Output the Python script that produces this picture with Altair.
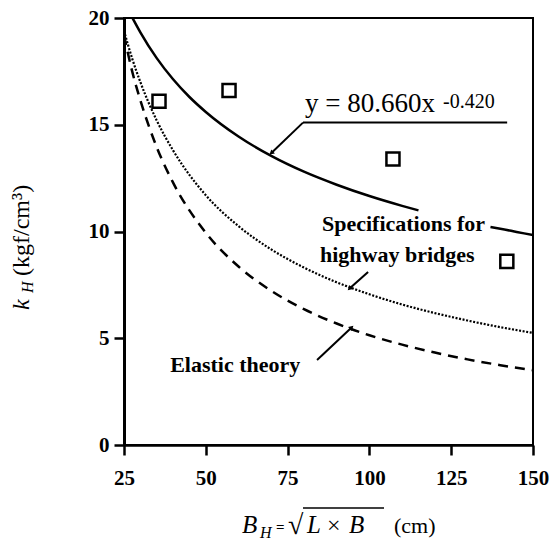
import altair as alt
import pandas as pd

# ---- data ----
# fitted curve y = 80.660 x^-0.420 (drawn with a gap behind the label text)
solid_x = [27.6, 30, 35, 40, 45, 50, 60, 70, 80, 90, 100, 110, 115, 137, 140, 145, 150]
solid_y = [20.0, 19.33, 18.12, 17.13, 16.30, 15.60, 14.45, 13.54, 12.80, 12.19, 11.66, 11.20, 10.99,
           10.21, 10.13, 9.98, 9.83]
solid_seg = ["a"] * 13 + ["b"] * 4

# Specifications for highway bridges (dotted)
spec_x = [25, 27.5, 30, 35, 40, 50, 60, 70, 80, 90, 100, 110, 120, 130, 140, 150]
spec_y = [19.4, 18.1, 17.0, 15.2, 13.8, 11.7, 10.25, 9.16, 8.31, 7.62, 7.06, 6.58, 6.18, 5.83, 5.52, 5.25]

# Elastic theory (dashed)
elastic_x = [25, 27.5, 30, 35, 40, 50, 60, 70, 80, 90, 100, 110, 120, 130, 140, 150]
elastic_y = [19.2, 17.5, 16.15, 13.95, 12.29, 9.94, 8.36, 7.22, 6.36, 5.69, 5.14, 4.70, 4.33, 4.01, 3.74, 3.5]

# measured points
obs_x = [35.7, 57.1, 107.2, 142.0]
obs_y = [16.1, 16.6, 13.4, 8.6]

x_ticks = [25, 50, 75, 100, 125, 150]
y_ticks = [0, 5, 10, 15, 20]

# leader lines of the annotations (data units)
lead_x = [79.7, 79.7, 99.6, 84.0]
lead_y = [15.1, 15.1, 8.1, 3.98]
lead_x2 = [142.1, 70.2, 94.1, 94.4]
lead_y2 = [15.1, 13.7, 7.35, 5.48]
tip_x = [70.2, 94.1, 94.4]
tip_y = [13.7, 7.35, 5.48]
tip_ang = [229, 228, 47]

SERIF = "Liberation Serif"

solid_df = pd.DataFrame({"x": solid_x, "y": solid_y, "seg": solid_seg})
spec_df = pd.DataFrame({"x": spec_x, "y": spec_y})
el_df = pd.DataFrame({"x": elastic_x, "y": elastic_y})
obs_df = pd.DataFrame({"x": obs_x, "y": obs_y})
lead_df = pd.DataFrame({"x": lead_x, "y": lead_y, "x2": lead_x2, "y2": lead_y2})
tip_df = pd.DataFrame({"x": tip_x, "y": tip_y, "a": tip_ang})

xs = alt.Scale(domain=[25, 150], nice=False, zero=False)
ys = alt.Scale(domain=[0, 20], nice=False)
X = alt.X("x:Q", scale=xs, title=None,
          axis=alt.Axis(values=x_ticks, tickSize=10, tickWidth=2.5, domainWidth=2.5,
                        labelPadding=12, grid=False, labelFlush=False,
                        labelFont=SERIF, labelFontSize=21, labelFontWeight="bold",
                        labelColor="black", domainColor="black", tickColor="black"))
Y = alt.Y("y:Q", scale=ys, title=None,
          axis=alt.Axis(values=y_ticks, tickSize=10, tickWidth=2.5, domainWidth=3,
                        labelPadding=5, grid=False, labelFlush=False,
                        labelFont=SERIF, labelFontSize=21, labelFontWeight="bold",
                        labelColor="black", domainColor="black", tickColor="black"))

solid = alt.Chart(solid_df).mark_line(color="black", strokeWidth=2.5, interpolate="monotone",
                                      clip=True).encode(x=X, y=Y, detail="seg:N")
spec = alt.Chart(spec_df).mark_line(color="black", strokeWidth=2.2, strokeDash=[2, 1.6],
                                    interpolate="monotone", clip=True).encode(x=X, y=Y)
elastic = alt.Chart(el_df).mark_line(color="black", strokeWidth=2.5, strokeDash=[10, 7],
                                     interpolate="monotone", clip=True).encode(x=X, y=Y)
pts = alt.Chart(obs_df).mark_point(shape="square", size=170, filled=False, color="black",
                                   strokeWidth=2.5, opacity=1).encode(x=X, y=Y)
leads = alt.Chart(lead_df).mark_rule(color="black", strokeWidth=2).encode(
    x=X, y=Y, x2="x2:Q", y2="y2:Q")
tips = alt.Chart(tip_df).mark_point(shape="triangle", size=30, filled=True, color="black",
                                    opacity=1).encode(x=X, y=Y, angle=alt.Angle("a:Q", scale=None))

one = pd.DataFrame({"k": [0]})


def dtext(txt, x, y, size, weight="normal", style="normal"):
    d = pd.DataFrame({"x": [x], "y": [y]})
    return alt.Chart(d).mark_text(text=txt, font=SERIF, fontSize=size, fontWeight=weight,
                                  fontStyle=style, align="left", baseline="alphabetic",
                                  color="black").encode(x=X, y=Y)


def ptext(txt, px, py, size, weight="normal", style="normal", angle=0):
    # px, py: pixel position relative to the plot origin
    return alt.Chart(one).mark_text(text=txt, font=SERIF, fontSize=size, fontWeight=weight,
                                    fontStyle=style, align="left", baseline="alphabetic",
                                    angle=angle, color="black").encode(
        x=alt.value(px), y=alt.value(py))


annotations = [
    dtext("y = 80.660x", 80.3, 15.6, 27),
    dtext("-0.420", 122.5, 15.8, 20),
    dtext("Specifications for", 85.5, 10.02, 22, weight="bold"),
    dtext("highway bridges", 84.9, 8.57, 22, weight="bold"),
    dtext("Elastic theory", 39.1, 3.42, 22, weight="bold"),
]

# axis titles (pixel offsets from plot origin at (124, 18))
titles = [
    ptext("B", 118, 515, 25, style="italic"),
    ptext("H", 136, 520, 16, style="italic"),
    ptext("=", 152, 514, 15, weight="bold"),
    ptext("√", 164, 516, 28),
    ptext("L", 183, 515, 25, style="italic"),
    ptext("×", 203, 515, 24),
    ptext("B", 225, 515, 25, style="italic"),
    ptext("(cm)", 270, 515, 22),
    ptext("k", -95, 292, 24, style="italic", angle=270),
    ptext("H", -91, 275, 16, style="italic", angle=270),
    ptext("(kgf/cm³)", -95, 258, 24, angle=270),
]
overline = alt.Chart(one).mark_rule(color="black", strokeWidth=1.5).encode(
    x=alt.value(179), x2=alt.value(260), y=alt.value(490))

chart = alt.layer(solid, spec, elastic, pts, leads, tips, *annotations, *titles, overline).properties(
    width=409, height=427,
    padding={"left": 124, "top": 18, "right": 20, "bottom": 98},
    autosize=alt.AutoSizeParams(type="none"),
    background="white",
).configure_view(stroke="black", strokeWidth=2)

chart.save("out.html", embed_options={"renderer": "svg", "actions": False})
